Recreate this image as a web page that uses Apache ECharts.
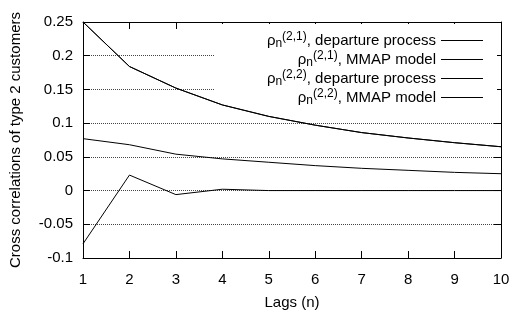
<!DOCTYPE html>
<html>
<head>
<meta charset="utf-8">
<script src="https://cdn.jsdelivr.net/npm/echarts@6/dist/echarts.min.js"></script>
<style>
  html, body { margin: 0; padding: 0; background: #fff; }
  #chart { width: 513px; height: 318px; }
</style>
</head>
<body>
<div id="chart"></div>
<script>
// lags on the x axis
var lags = [1, 2, 3, 4, 5, 6, 7, 8, 9, 10];
// rho(2,1) departure process / MMAP model (curves lie on top of each other)
var dep21 = [0.25, 0.184, 0.152, 0.127, 0.110, 0.097, 0.086, 0.078, 0.071, 0.065];
var mmap21 = [0.25, 0.184, 0.152, 0.127, 0.110, 0.097, 0.086, 0.078, 0.071, 0.065];
// rho(2,2)
var dep22 = [0.077, 0.068, 0.054, 0.047, 0.042, 0.037, 0.033, 0.030, 0.027, 0.025];
var mmap22 = [-0.079, 0.023, -0.006, 0.002, 0, 0, 0, 0, 0, 0];
var yTicks = [-0.1, -0.05, 0, 0.05, 0.1, 0.15, 0.2, 0.25];

var seriesNames = ['dep21', 'mmap21', 'dep22', 'mmap22'];
var legendText = {
    dep21: '{t|ρ}{sub|n}{sup|(2,1)}{t|, departure process}',
    mmap21: '{t|ρ}{sub|n}{sup|(2,1)}{t|, MMAP model}',
    dep22: '{t|ρ}{sub|n}{sup|(2,2)}{t|, departure process}',
    mmap22: '{t|ρ}{sub|n}{sup|(2,2)}{t|, MMAP model}'
};

function pairs(ys) {
    var out = [];
    for (var i = 0; i < lags.length; i++) {
        out.push([lags[i], ys[i]]);
    }
    return out;
}

var font = 'Liberation Sans';
var myChart = echarts.init(document.getElementById('chart'));

var lineSeries = [dep21, mmap21, dep22, mmap22].map(function (ys, i) {
    return {
        name: seriesNames[i],
        type: 'line',
        data: pairs(ys),
        symbol: 'none',
        z: 3,
        lineStyle: { color: '#000', width: 1 },
        itemStyle: { color: '#000' }
    };
});

// x axes sit on the frame: the right y axis (a mirror scale without zero) is used as their "zero" reference
function frameLine() {
    return { show: true, onZeroAxisIndex: 1, lineStyle: { color: '#000', width: 1 } };
}
function frameTick() {
    return { show: true, inside: true, length: 7, lineStyle: { color: '#000', width: 1 } };
}

myChart.setOption({
    animation: false,
    backgroundColor: '#fff',
    textStyle: { fontFamily: font },
    grid: { left: 83, right: 12, top: 22, bottom: 60 },
    legend: {
        orient: 'vertical',
        right: 16,
        top: 24,
        z: 1,
        padding: [7, 14, 6, 52],
        itemGap: 0,
        itemWidth: 42,
        itemHeight: 1,
        align: 'right',
        backgroundColor: '#fff',
        icon: 'rect',
        data: seriesNames,
        itemStyle: { color: '#000', borderWidth: 0 },
        formatter: function (name) { return legendText[name]; },
        textStyle: {
            fontFamily: font,
            fontSize: 15,
            color: '#000',
            rich: {
                t: { fontSize: 15, fontFamily: font, color: '#000', lineHeight: 19 },
                sub: { fontSize: 12, fontFamily: font, color: '#000', lineHeight: 11, padding: [7, 0, 0, 0] },
                sup: { fontSize: 12, fontFamily: font, color: '#000', lineHeight: 11, padding: [0, 0, 7, 0] }
            }
        }
    },
    xAxis: [{
        type: 'value',
        min: 1,
        max: 10,
        interval: 1,
        name: 'Lags (n)',
        nameLocation: 'middle',
        nameGap: 37,
        nameTextStyle: { fontSize: 15, color: '#000', fontFamily: font },
        axisLine: frameLine(),
        axisTick: frameTick(),
        axisLabel: { fontSize: 15, color: '#000', margin: 14, fontFamily: font },
        splitLine: { show: false }
    }, {
        type: 'value',
        position: 'top',
        min: 1,
        max: 10,
        interval: 1,
        axisLine: frameLine(),
        axisTick: frameTick(),
        axisLabel: { show: false },
        splitLine: { show: false }
    }],
    yAxis: [{
        type: 'value',
        min: -0.1,
        max: 0.25,
        interval: 0.05,
        name: 'Cross correlations of type 2 customers',
        nameLocation: 'middle',
        nameGap: 60,
        nameTextStyle: { fontSize: 15, color: '#000', fontFamily: font },
        axisLine: { show: true, lineStyle: { color: '#000', width: 1 } },
        axisTick: frameTick(),
        axisLabel: {
            fontSize: 15, color: '#000', margin: 10, fontFamily: font,
            formatter: function (v) {
                var r = Math.round(v * 100) / 100;
                return yTicks.indexOf(r) >= 0 ? String(r) : '';
            }
        },
        splitLine: { show: true, lineStyle: { color: '#444', width: 1, type: 'dotted' } }
    }, {
        type: 'value',
        position: 'right',
        min: 1,
        max: 1.35,
        interval: 0.05,
        axisLine: { show: true, lineStyle: { color: '#000', width: 1 } },
        axisTick: frameTick(),
        axisLabel: { show: false },
        splitLine: { show: false }
    }],
    series: lineSeries
});
</script>
</body>
</html>
